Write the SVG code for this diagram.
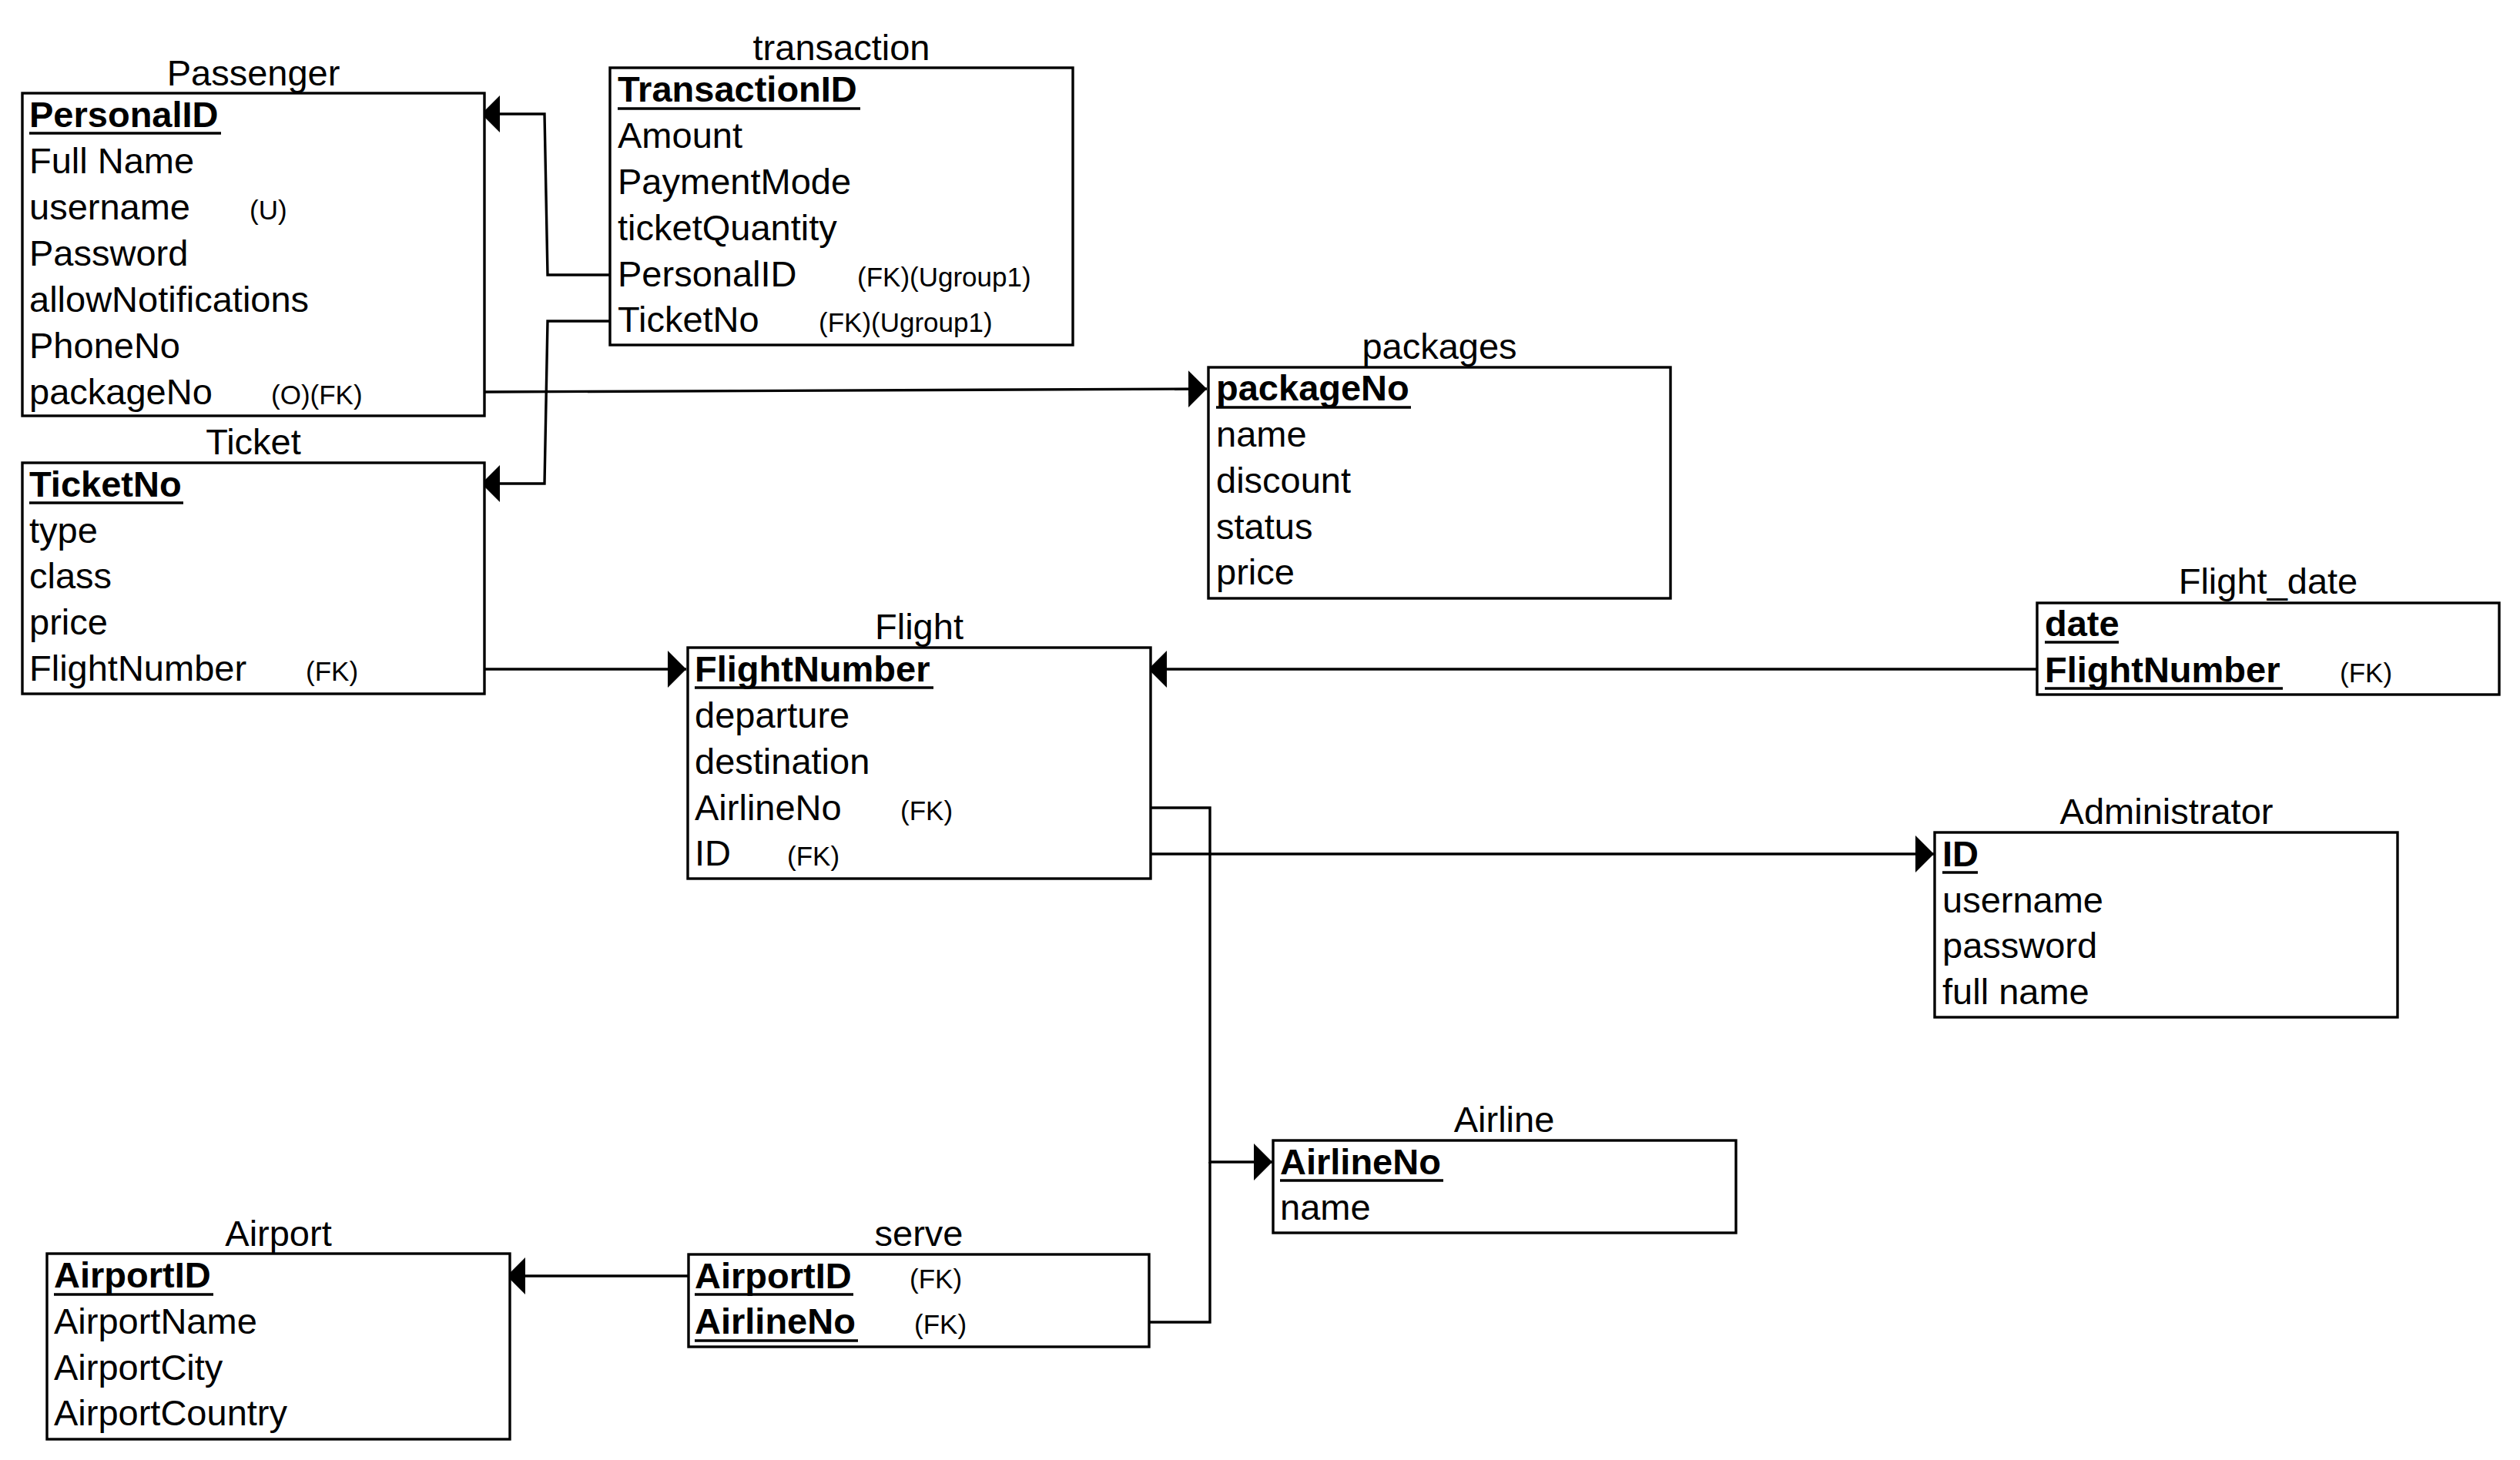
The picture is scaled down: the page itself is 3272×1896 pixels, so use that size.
<svg xmlns="http://www.w3.org/2000/svg" width="3272" height="1896" viewBox="0 0 3272 1896">
  <style>
    .box { fill: #ffffff; stroke: #000000; stroke-width: 3.4; }
    .title { font-family: "Liberation Sans", Arial, sans-serif; font-size: 47px; fill: #000000; text-anchor: middle; transform: translateY(1px); }
    .attr { font-family: "Liberation Sans", Arial, sans-serif; font-size: 47px; fill: #000000; transform: translateY(2px); }
    .pk { font-weight: bold; }
    .note { font-family: "Liberation Sans", Arial, sans-serif; font-size: 35px; fill: #000000; transform: translateY(2px); }
    .ul { stroke: #000000; stroke-width: 3.4; }
    .link { fill: none; stroke: #000000; stroke-width: 3.4; marker-end: url(#block); }
    .plain { fill: none; stroke: #000000; stroke-width: 3.4; }
  </style>
  <defs>
    <marker id="block" markerUnits="userSpaceOnUse" markerWidth="26" markerHeight="50" refX="24" refY="24" orient="auto" viewBox="0 0 26 50">
      <path d="M0,0 L24,24 L0,48 Z" fill="#000000"/>
    </marker>
  </defs>
  <rect width="3272" height="1896" fill="#ffffff"/>

  <!-- relationships -->
  <g id="connectors">
    <path class="link" d="M793,357 H711 L707,148 H625"/>
    <path class="link" d="M793,417 H711 L707,628 H625"/>
    <path class="link" d="M629,509 L1567,505"/>
    <path class="link" d="M629,869 H891"/>
    <path class="link" d="M2645,869 H1491"/>
    <path class="link" d="M1494,1109 H2511"/>
    <path class="link" d="M1494,1049 H1571 V1509 H1652"/>
    <path class="plain" d="M1492,1717 H1571 V1509"/>
    <path class="link" d="M894,1657 H658"/>
  </g>

  <!-- Passenger -->
  <g id="passenger">
    <text class="title" x="329" y="110">Passenger</text>
    <rect class="box" x="29" y="121" width="600" height="419"/>
    <text class="attr pk" x="38" y="163">PersonalID</text>
    <line class="ul" x1="38" y1="173" x2="287" y2="173"/>
    <text class="attr" x="38" y="223">Full Name</text>
    <text class="attr" x="38" y="283">username</text>
    <text class="note" x="324" y="283">(U)</text>
    <text class="attr" x="38" y="343">Password</text>
    <text class="attr" x="38" y="403">allowNotifications</text>
    <text class="attr" x="38" y="463">PhoneNo</text>
    <text class="attr" x="38" y="523">packageNo</text>
    <text class="note" x="352" y="523">(O)(FK)</text>
  </g>

  <!-- Ticket -->
  <g id="ticket">
    <text class="title" x="329" y="589">Ticket</text>
    <rect class="box" x="29" y="601" width="600" height="300"/>
    <text class="attr pk" x="38" y="643">TicketNo</text>
    <line class="ul" x1="38" y1="653" x2="238" y2="653"/>
    <text class="attr" x="38" y="703">type</text>
    <text class="attr" x="38" y="762">class</text>
    <text class="attr" x="38" y="822">price</text>
    <text class="attr" x="38" y="882">FlightNumber</text>
    <text class="note" x="397" y="882">(FK)</text>
  </g>

  <!-- transaction -->
  <g id="transaction">
    <text class="title" x="1092.5" y="77">transaction</text>
    <rect class="box" x="792" y="88" width="601" height="360"/>
    <text class="attr pk" x="802" y="130">TransactionID</text>
    <line class="ul" x1="802" y1="141" x2="1117" y2="141"/>
    <text class="attr" x="802" y="190">Amount</text>
    <text class="attr" x="802" y="250">PaymentMode</text>
    <text class="attr" x="802" y="310">ticketQuantity</text>
    <text class="attr" x="802" y="370">PersonalID</text>
    <text class="note" x="1113" y="370">(FK)(Ugroup1)</text>
    <text class="attr" x="802" y="429">TicketNo</text>
    <text class="note" x="1063" y="429">(FK)(Ugroup1)</text>
  </g>

  <!-- packages -->
  <g id="packages">
    <text class="title" x="1869" y="465">packages</text>
    <rect class="box" x="1569" y="477" width="600" height="300"/>
    <text class="attr pk" x="1579" y="518">packageNo</text>
    <line class="ul" x1="1579" y1="529" x2="1832" y2="529"/>
    <text class="attr" x="1579" y="578">name</text>
    <text class="attr" x="1579" y="638">discount</text>
    <text class="attr" x="1579" y="698">status</text>
    <text class="attr" x="1579" y="757">price</text>
  </g>

  <!-- Flight -->
  <g id="flight">
    <text class="title" x="1193.5" y="829">Flight</text>
    <rect class="box" x="893" y="841" width="601" height="300"/>
    <text class="attr pk" x="902" y="883">FlightNumber</text>
    <line class="ul" x1="902" y1="893" x2="1212" y2="893"/>
    <text class="attr" x="902" y="943">departure</text>
    <text class="attr" x="902" y="1003">destination</text>
    <text class="attr" x="902" y="1063">AirlineNo</text>
    <text class="note" x="1169" y="1063">(FK)</text>
    <text class="attr" x="902" y="1122">ID</text>
    <text class="note" x="1022" y="1122">(FK)</text>
  </g>

  <!-- Flight_date -->
  <g id="flight_date">
    <text class="title" x="2945" y="770">Flight_date</text>
    <rect class="box" x="2645" y="783" width="600" height="119"/>
    <text class="attr pk" x="2655" y="824">date</text>
    <line class="ul" x1="2655" y1="834" x2="2751" y2="834"/>
    <text class="attr pk" x="2655" y="884">FlightNumber</text>
    <line class="ul" x1="2655" y1="894" x2="2964" y2="894"/>
    <text class="note" x="3038" y="884">(FK)</text>
  </g>

  <!-- Administrator -->
  <g id="administrator">
    <text class="title" x="2813" y="1069">Administrator</text>
    <rect class="box" x="2512" y="1081" width="601" height="240"/>
    <text class="attr pk" x="2522" y="1123">ID</text>
    <line class="ul" x1="2522" y1="1133" x2="2568" y2="1133"/>
    <text class="attr" x="2522" y="1183">username</text>
    <text class="attr" x="2522" y="1242">password</text>
    <text class="attr" x="2522" y="1302">full name</text>
  </g>

  <!-- Airline -->
  <g id="airline">
    <text class="title" x="1953" y="1469">Airline</text>
    <rect class="box" x="1653" y="1481" width="601" height="120"/>
    <text class="attr pk" x="1662" y="1523">AirlineNo</text>
    <line class="ul" x1="1662" y1="1533" x2="1874" y2="1533"/>
    <text class="attr" x="1662" y="1582">name</text>
  </g>

  <!-- serve -->
  <g id="serve">
    <text class="title" x="1193" y="1617">serve</text>
    <rect class="box" x="894" y="1629" width="598" height="120"/>
    <text class="attr pk" x="902" y="1671">AirportID</text>
    <line class="ul" x1="902" y1="1681" x2="1108" y2="1681"/>
    <text class="note" x="1181" y="1671">(FK)</text>
    <text class="attr pk" x="902" y="1730">AirlineNo</text>
    <line class="ul" x1="902" y1="1741" x2="1114" y2="1741"/>
    <text class="note" x="1187" y="1730">(FK)</text>
  </g>

  <!-- Airport -->
  <g id="airport">
    <text class="title" x="361.5" y="1617">Airport</text>
    <rect class="box" x="61" y="1628" width="601" height="241"/>
    <text class="attr pk" x="70" y="1670">AirportID</text>
    <line class="ul" x1="70" y1="1681" x2="277" y2="1681"/>
    <text class="attr" x="70" y="1730">AirportName</text>
    <text class="attr" x="70" y="1790">AirportCity</text>
    <text class="attr" x="70" y="1849">AirportCountry</text>
  </g>
</svg>
